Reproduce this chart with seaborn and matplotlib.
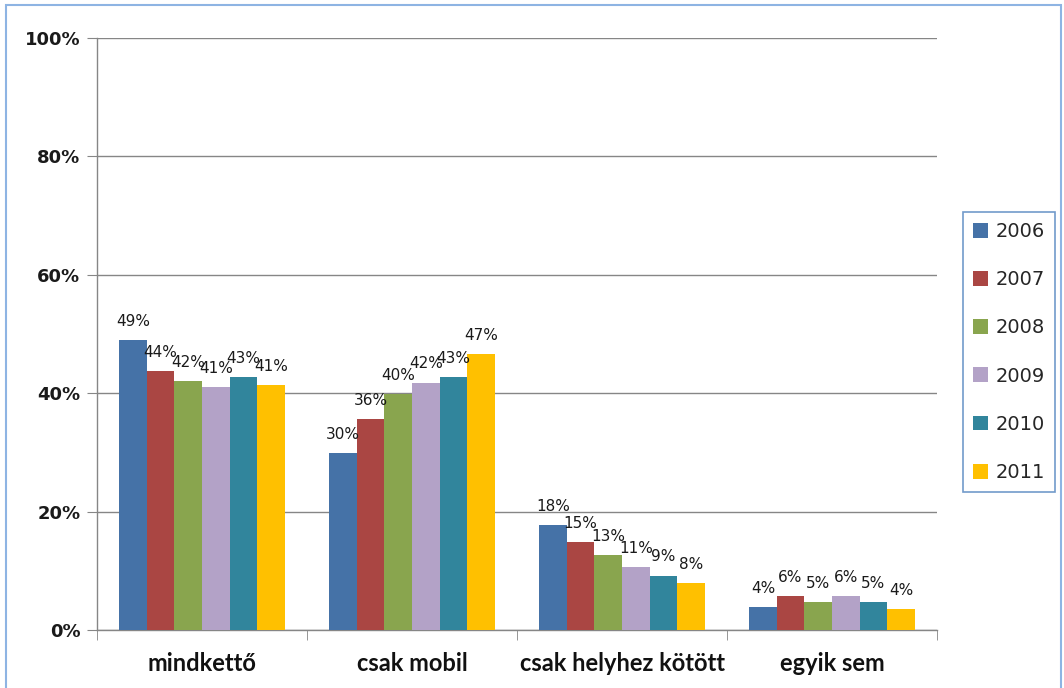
import numpy as np
import pandas as pd
import seaborn as sns
import matplotlib.pyplot as plt
from matplotlib.patches import Rectangle
from matplotlib.ticker import FuncFormatter

# data (percent)
categories = ["mindkettő", "csak mobil", "csak helyhez kötött", "egyik sem"]
years = ["2006", "2007", "2008", "2009", "2010", "2011"]
v2006 = [49.0, 29.9, 17.7, 3.9]
v2007 = [43.8, 35.7, 14.8, 5.8]
v2008 = [42.0, 39.8, 12.7, 4.7]
v2009 = [41.0, 41.8, 10.7, 5.8]
v2010 = [42.7, 42.8, 9.2, 4.7]
v2011 = [41.4, 46.6, 8.0, 3.6]
colors = ["#4572A7", "#AA4643", "#89A54E", "#B3A2C7", "#31859C", "#FFC000"]

rows = []
for yr, vals in zip(years, [v2006, v2007, v2008, v2009, v2010, v2011]):
	for cat, v in zip(categories, vals):
		rows.append({"kategoria": cat, "ev": yr, "ertek": v})
df = pd.DataFrame(rows)

sns.set_style("white")
plt.rcParams['font.family'] = ['DejaVu Sans']

W, H = 1064, 688
fig = plt.figure(figsize=(W/100, H/100), dpi=100)
ax = fig.add_axes([97/W, 1-630/H, 840/W, 592/H])

sns.barplot(data=df, x="kategoria", y="ertek", hue="ev", order=categories,
	hue_order=years, palette=colors, saturation=1, width=0.79,
	linewidth=0, ax=ax, zorder=3)

for c in ax.containers:
	ax.bar_label(c, fmt="{:.0f}%", padding=8, fontsize=11, color="#1a1a1a")

ax.set_xlim(-0.5, 3.5)
ax.set_ylim(0, 100)
ax.set_yticks(np.arange(0, 101, 20))
ax.yaxis.set_major_formatter(FuncFormatter(lambda v, p: f"{v:.0f}%"))
ax.yaxis.grid(True, color="#868686", lw=1, zorder=0)
ax.set_axisbelow(True)
ax.set_xlabel("")
ax.set_ylabel("")

for s in ["top", "right"]:
	ax.spines[s].set_visible(False)
for s in ["left", "bottom"]:
	ax.spines[s].set_color("#868686")
	ax.spines[s].set_linewidth(1)

ax.tick_params(axis="y", which="major", length=7, color="#868686", pad=5,
	labelsize=13, left=True)
for t in ax.get_yticklabels():
	t.set_fontweight("bold")
	t.set_color("#1a1a1a")
ax.set_xticks(np.arange(-0.5, 4, 1), minor=True)
ax.tick_params(axis="x", which="minor", length=7, color="#868686", bottom=True)
ax.tick_params(axis="x", which="major", length=0, pad=16)
for t in ax.get_xticklabels():
	t.set_fontfamily("Lato")
	t.set_fontweight("bold")
	t.set_fontsize(17)
	t.set_color("#111111")

handles, labels = ax.get_legend_handles_labels()
leg = ax.legend(handles, labels, loc="center left",
	bbox_to_anchor=(963/W, 1-352/H), bbox_transform=fig.transFigure,
	fancybox=False, frameon=True, edgecolor="#4F81BD", fontsize=14,
	handlelength=0.8, handleheight=0.8, handletextpad=0.4,
	labelspacing=1.5, borderpad=0.5, borderaxespad=0)
leg.get_frame().set_linewidth(1.2)

fig.patches.append(Rectangle((6/W, -0.02), 1055/W, 1-5/H+0.02,
	transform=fig.transFigure, fill=False, edgecolor="#8EB4E3", lw=1.5))

fig.savefig("out.png", dpi=100)
